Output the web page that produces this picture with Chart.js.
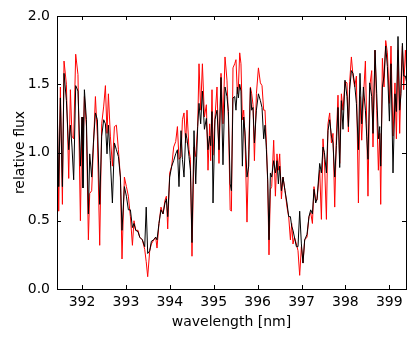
<!DOCTYPE html>
<html>
<head>
<meta charset="utf-8">
<script src="https://cdn.jsdelivr.net/npm/chart.js@4"></script>
<style>
  html, body { margin: 0; padding: 0; background: #fff; }
  .main-chart { position: relative; width: 416px; height: 339px; }
</style>
</head>
<body>
<div class="main-chart"><canvas id="specChart"></canvas></div>
<script>
// Wavelength samples (nm)
const wavelength = [
  391.430, 391.469, 391.507, 391.553, 391.590, 391.644, 391.697, 391.735, 391.772, 391.810,
  391.856, 391.908, 391.963, 392.000, 392.022, 392.054, 392.100, 392.145, 392.175, 392.220,
  392.259, 392.305, 392.350, 392.403, 392.448, 392.494, 392.533, 392.569, 392.601, 392.646,
  392.692, 392.738, 392.783, 392.829, 392.874, 392.911, 392.965, 393.011, 393.056, 393.102,
  393.148, 393.184, 393.223, 393.275, 393.314, 393.375, 393.428, 393.462, 393.496, 393.542,
  393.580, 393.633, 393.678, 393.708, 393.753, 393.799, 393.845, 393.890, 393.922, 393.952,
  393.997, 394.043, 394.088, 394.134, 394.173, 394.209, 394.255, 394.287, 394.323, 394.362,
  394.391, 394.437, 394.469, 394.505, 394.551, 394.590, 394.635, 394.665, 394.703, 394.742,
  394.788, 394.833, 394.870, 394.908, 394.931, 394.961, 394.984, 395.029, 395.075, 395.120,
  395.166, 395.211, 395.257, 395.302, 395.334, 395.375, 395.403, 395.439, 395.478, 395.507,
  395.539, 395.562, 395.592, 395.621, 395.653, 395.683, 395.712, 395.758, 395.797, 395.835,
  395.865, 395.895, 395.927, 395.972, 396.018, 396.063, 396.100, 396.138, 396.168, 396.200,
  396.230, 396.259, 396.291, 396.321, 396.366, 396.405, 396.441, 396.473, 396.503, 396.542,
  396.578, 396.624, 396.669, 396.708, 396.747, 396.776, 396.806, 396.838, 396.883, 396.920,
  396.958, 396.997, 397.034, 397.072, 397.125, 397.170, 397.209, 397.248, 397.284, 397.323,
  397.353, 397.414, 397.453, 397.489, 397.521, 397.567, 397.603, 397.642, 397.681, 397.717,
  397.756, 397.794, 397.831, 397.870, 397.908, 397.945, 397.990, 398.036, 398.068, 398.097,
  398.136, 398.173, 398.211, 398.250, 398.296, 398.332, 398.371, 398.410, 398.455, 398.485,
  398.514, 398.553, 398.599, 398.628, 398.674, 398.713, 398.751, 398.781, 398.804, 398.842,
  398.879, 398.918, 398.956, 399.002, 399.038, 399.084, 399.129, 399.161, 399.198, 399.236,
  399.266, 399.298, 399.327, 399.366, 399.403
];

// black spectrum
const fluxBlack = [
  1.40, 0.75, 1.40, 0.75, 1.58, 1.38, 1.02, 1.20, 1.04, 0.80,
  1.49, 1.45, 0.90, 1.26, 0.74, 1.46, 1.24, 0.55, 0.99, 0.82,
  1.07, 1.29, 1.24, 0.62, 1.12, 1.24, 1.21, 0.99, 1.20, 0.94,
  0.63, 1.07, 1.02, 0.97, 0.82, 0.43, 0.75, 0.68, 0.58, 0.58,
  0.45, 0.48, 0.43, 0.42, 0.38, 0.36, 0.31, 0.60, 0.26, 0.28,
  0.35, 0.36, 0.38, 0.36, 0.48, 0.58, 0.55, 0.63, 0.66, 0.53,
  0.82, 0.90, 0.94, 0.99, 1.02, 0.75, 1.16, 0.95, 0.82, 1.14,
  1.10, 0.97, 0.87, 0.34, 1.16, 0.77, 1.19, 1.36, 1.21, 1.45,
  1.17, 1.25, 1.02, 1.12, 1.05, 1.30, 0.63, 1.24, 1.31, 1.02,
  1.55, 0.91, 1.48, 1.41, 1.30, 0.77, 0.72, 1.40, 1.41, 1.31,
  1.48, 1.40, 1.50, 1.45, 0.90, 1.26, 1.15, 0.82, 0.90, 1.47,
  1.31, 1.33, 1.07, 1.31, 1.43, 1.38, 1.33, 1.10, 1.20, 1.02,
  0.80, 0.36, 0.85, 0.82, 0.94, 0.85, 0.94, 0.77, 0.90, 0.72,
  0.82, 0.72, 0.63, 0.53, 0.53, 0.46, 0.43, 0.38, 0.31, 0.31,
  0.57, 0.33, 0.19, 0.36, 0.40, 0.53, 0.58, 0.55, 0.73, 0.63,
  0.66, 0.92, 0.85, 1.04, 1.00, 0.85, 1.16, 1.24, 1.12, 1.07,
  0.82, 1.05, 1.33, 0.89, 1.38, 1.17, 1.53, 1.41, 1.19, 1.46,
  1.60, 1.58, 1.50, 1.36, 1.02, 1.58, 1.21, 1.48, 1.31, 1.12,
  0.95, 1.51, 1.41, 1.14, 1.75, 1.43, 1.10, 1.19, 0.90, 1.48,
  1.56, 1.78, 1.63, 1.23, 1.65, 0.85, 1.43, 1.30, 1.85, 1.31,
  1.43, 1.80, 1.56, 1.56, 1.50
];

// red spectrum
const fluxRed = [
  1.53, 0.57, 1.48, 0.62, 1.67, 1.50, 0.81, 1.46, 1.12, 1.10,
  1.72, 1.57, 0.50, 1.26, 1.05, 1.41, 1.19, 0.36, 0.70, 0.72,
  1.04, 1.41, 1.12, 0.32, 1.21, 1.34, 1.49, 1.14, 1.43, 1.12,
  0.90, 1.19, 1.20, 1.02, 0.82, 0.22, 0.82, 0.75, 0.68, 0.53,
  0.32, 0.50, 0.43, 0.43, 0.38, 0.36, 0.29, 0.20, 0.09, 0.28,
  0.33, 0.36, 0.38, 0.30, 0.48, 0.60, 0.55, 0.65, 0.68, 0.44,
  0.85, 0.90, 1.04, 1.08, 1.19, 0.95, 0.97, 1.24, 1.29, 1.07,
  1.31, 1.02, 0.95, 0.24, 1.04, 0.97, 1.20, 1.65, 1.31, 1.65,
  1.26, 1.35, 0.87, 1.21, 0.94, 1.46, 0.98, 1.26, 1.48, 0.92,
  1.58, 1.21, 1.70, 1.53, 1.26, 0.58, 0.57, 1.62, 1.65, 1.68,
  1.43, 1.48, 1.73, 1.65, 1.24, 1.31, 1.12, 0.49, 1.02, 1.48,
  1.43, 1.35, 0.94, 1.43, 1.62, 1.51, 1.49, 1.31, 1.31, 1.07,
  0.77, 0.25, 0.73, 0.75, 1.09, 0.68, 0.99, 0.87, 0.99, 0.66,
  0.82, 0.72, 0.60, 0.53, 0.36, 0.48, 0.33, 0.38, 0.33, 0.28,
  0.10, 0.31, 0.19, 0.36, 0.38, 0.53, 0.56, 0.48, 0.75, 0.65,
  0.65, 0.87, 0.51, 1.10, 0.95, 0.51, 1.21, 1.29, 1.07, 1.14,
  0.60, 1.12, 1.42, 0.92, 1.43, 1.31, 1.52, 1.51, 1.15, 1.52,
  1.70, 1.56, 1.48, 1.56, 0.63, 1.41, 1.09, 1.40, 1.67, 1.21,
  0.68, 1.48, 1.60, 1.04, 1.75, 1.31, 0.87, 1.14, 0.62, 1.69,
  1.48, 1.82, 1.73, 1.36, 1.78, 1.12, 1.51, 1.10, 1.75, 1.14,
  1.53, 1.78, 1.46, 1.75, 1.55
];

const xTicks = [392, 393, 394, 395, 396, 397, 398, 399];
const yTicks = [0.0, 0.5, 1.0, 1.5, 2.0];

const FONT = { family: 'DejaVu Sans', size: 14 };

// matplotlib-like frame with inward ticks on all four sides
const framePlugin = {
  id: 'frame',
  afterDatasetsDraw(chart) {
    const { ctx, chartArea: a, scales: { x, y } } = chart;
    const len = 4;
    ctx.save();
    ctx.strokeStyle = '#000';
    ctx.lineWidth = 1;
    ctx.beginPath();
    xTicks.forEach(v => {
      const px = Math.round(x.getPixelForValue(v)) + 0.5;
      ctx.moveTo(px, a.bottom); ctx.lineTo(px, a.bottom - len);
      ctx.moveTo(px, a.top); ctx.lineTo(px, a.top + len);
    });
    yTicks.forEach(v => {
      const py = Math.round(y.getPixelForValue(v)) + 0.5;
      ctx.moveTo(a.left, py); ctx.lineTo(a.left + len, py);
      ctx.moveTo(a.right, py); ctx.lineTo(a.right - len, py);
    });
    ctx.stroke();
    ctx.strokeRect(Math.round(a.left) + 0.5, Math.round(a.top) + 0.5,
      Math.round(a.right - a.left), Math.round(a.bottom - a.top));
    ctx.restore();
  }
};

const ctx = document.getElementById('specChart').getContext('2d');
const chart = new Chart(ctx, {
  type: 'line',
  data: {
    labels: wavelength,
    datasets: [
      {
        label: 'black',
        data: fluxBlack,
        borderColor: '#000000',
        borderWidth: 1,
        pointRadius: 0,
        tension: 0
      },
      {
        label: 'red',
        data: fluxRed,
        borderColor: '#ff0000',
        borderWidth: 1,
        pointRadius: 0,
        tension: 0
      }
    ]
  },
  options: {
    responsive: true,
    maintainAspectRatio: false,
    animation: false,
    events: [],
    layout: { padding: { top: 16, right: 10, left: 0, bottom: 0 } },
    scales: {
      x: {
        type: 'linear',
        min: 391.43,
        max: 399.38,
        grid: { display: false, drawTicks: false },
        border: { display: false },
        afterBuildTicks: s => { s.ticks = xTicks.map(v => ({ value: v })); },
        afterFit: s => { s.height = 50; },
        ticks: {
          color: '#000',
          font: FONT,
          padding: 5,
          maxRotation: 0,
          callback: v => String(v)
        },
        title: {
          display: true,
          text: 'wavelength [nm]',
          color: '#000',
          font: FONT,
          padding: { top: 0, bottom: 8 }
        }
      },
      y: {
        min: 0,
        max: 2,
        grid: { display: false, drawTicks: false },
        border: { display: false },
        afterBuildTicks: s => { s.ticks = yTicks.map(v => ({ value: v })); },
        afterFit: s => { s.width = 57; },
        ticks: {
          color: '#000',
          font: FONT,
          padding: 7,
          callback: v => v.toFixed(1)
        },
        title: {
          display: true,
          text: 'relative flux',
          color: '#000',
          font: FONT,
          padding: { top: 12, bottom: 0 }
        }
      }
    },
    plugins: {
      legend: { display: false },
      tooltip: { enabled: false }
    }
  },
  plugins: [framePlugin]
});
</script>
</body>
</html>
